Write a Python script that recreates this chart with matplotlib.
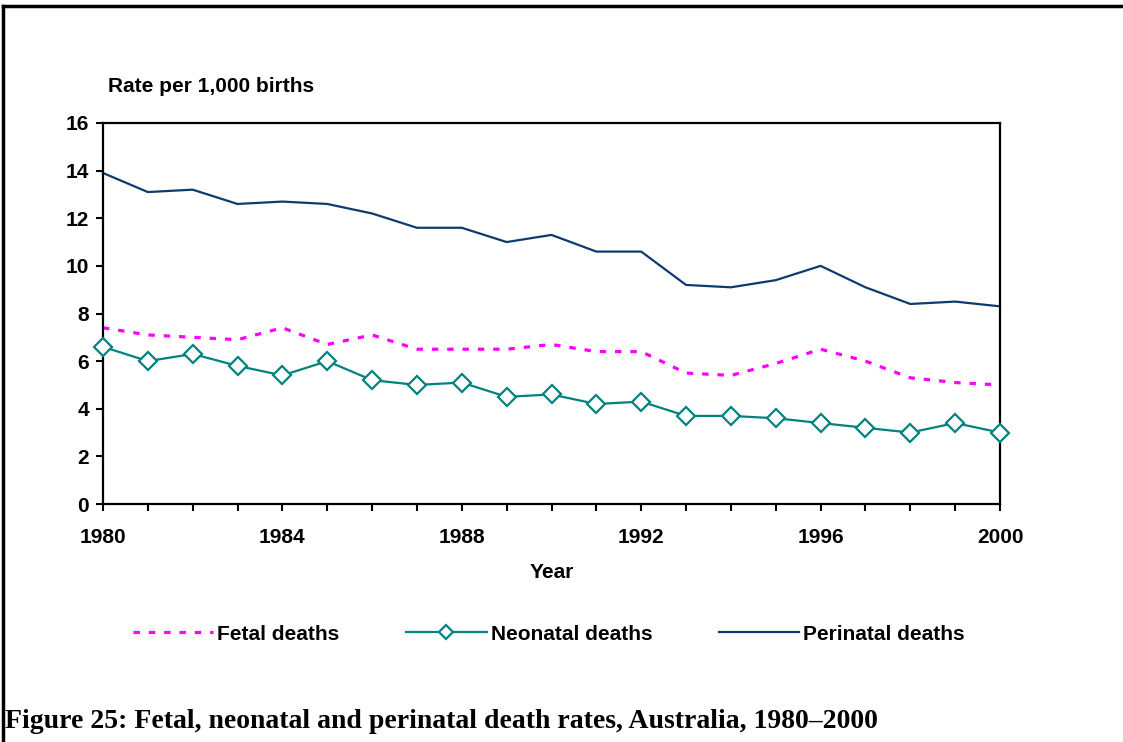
import matplotlib
matplotlib.use("Agg")
import matplotlib.pyplot as plt
from matplotlib.lines import Line2D

years = list(range(1980, 2001))
fetal = [7.4, 7.1, 7.0, 6.9, 7.4, 6.7, 7.1, 6.5, 6.5, 6.5, 6.7,
         6.4, 6.4, 5.5, 5.4, 5.9, 6.5, 6.0, 5.3, 5.1, 5.0]
neonatal = [6.6, 6.0, 6.3, 5.8, 5.4, 6.0, 5.2, 5.0, 5.1, 4.5, 4.6,
            4.2, 4.3, 3.7, 3.7, 3.6, 3.4, 3.2, 3.0, 3.4, 3.0]
perinatal = [13.9, 13.1, 13.2, 12.6, 12.7, 12.6, 12.2, 11.6, 11.6, 11.0, 11.3,
             10.6, 10.6, 9.2, 9.1, 9.4, 10.0, 9.1, 8.4, 8.5, 8.3]
y_ticks = [0, 2, 4, 6, 8, 10, 12, 14, 16]
x_labels = [1980, 1984, 1988, 1992, 1996, 2000]

plt.rcParams["font.family"] = ["Liberation Sans", "DejaVu Sans"]
plt.rcParams["font.weight"] = "bold"

W, H = 1123, 742
fig = plt.figure(figsize=(W / 100, H / 100), dpi=100)
ax = fig.add_axes([103 / W, 1 - 504 / H, (1000 - 103) / W, (504 - 123) / H])

ax.plot(years, perinatal, color="#0d3b6e", lw=1.6, label="Perinatal deaths", clip_on=False)
ax.plot(years, fetal, color="#ff00ff", lw=2.3, dashes=(2, 2.8), label="Fetal deaths", clip_on=False)
ax.plot(years, neonatal, color="#00827f", lw=1.6, marker="D", ms=9, mfc="white",
        mec="#00827f", mew=1.6, label="Neonatal deaths", clip_on=False, zorder=3)

ax.set_xlim(1980, 2000)
ax.set_ylim(0, 16)
ax.set_xticks(years)
ax.set_xticklabels([str(y) if y in x_labels else "" for y in years])
ax.set_yticks(y_ticks)
ax.tick_params(axis="both", direction="out", length=5, width=1.5, labelsize=15, color="black")
ax.tick_params(axis="y", pad=5)
ax.tick_params(axis="x", pad=12)
for s in ax.spines.values():
    s.set_linewidth(1.6)
    s.set_color("black")

fig.text(108 / W, 1 - 87 / H, "Rate per 1,000 births", fontsize=15, fontweight="bold", va="center", ha="left")
fig.text(551.5 / W, 1 - 572 / H, "Year", fontsize=15, fontweight="bold", va="center", ha="center")

h = {l.get_label(): l for l in ax.get_lines()}
leg = fig.legend([h["Fetal deaths"], h["Neonatal deaths"], h["Perinatal deaths"]],
                 ["Fetal deaths", "Neonatal deaths", "Perinatal deaths"],
                 loc="center left", bbox_to_anchor=(133 / W, 1 - 634 / H), ncol=3,
                 frameon=False, fontsize=15, handlelength=3.85, handletextpad=0.2,
                 columnspacing=3.2, borderpad=0, borderaxespad=0, markerscale=0.8)

fig.text(5 / W, 1 - 722 / H, "Figure 25: Fetal, neonatal and perinatal death rates, Australia, 1980\u20132000",
         fontsize=20, fontweight="bold", family=["Liberation Serif", "DejaVu Serif"], va="center", ha="left")

# outer frame: top and left edges only
fig.add_artist(Line2D([3 / W, 1], [1 - 6 / H, 1 - 6 / H], color="black", lw=2.5, transform=fig.transFigure))
fig.add_artist(Line2D([3 / W, 3 / W], [0, 1 - 6 / H], color="black", lw=2.5, transform=fig.transFigure))

fig.savefig("out.png", dpi=100)
plt.close(fig)
